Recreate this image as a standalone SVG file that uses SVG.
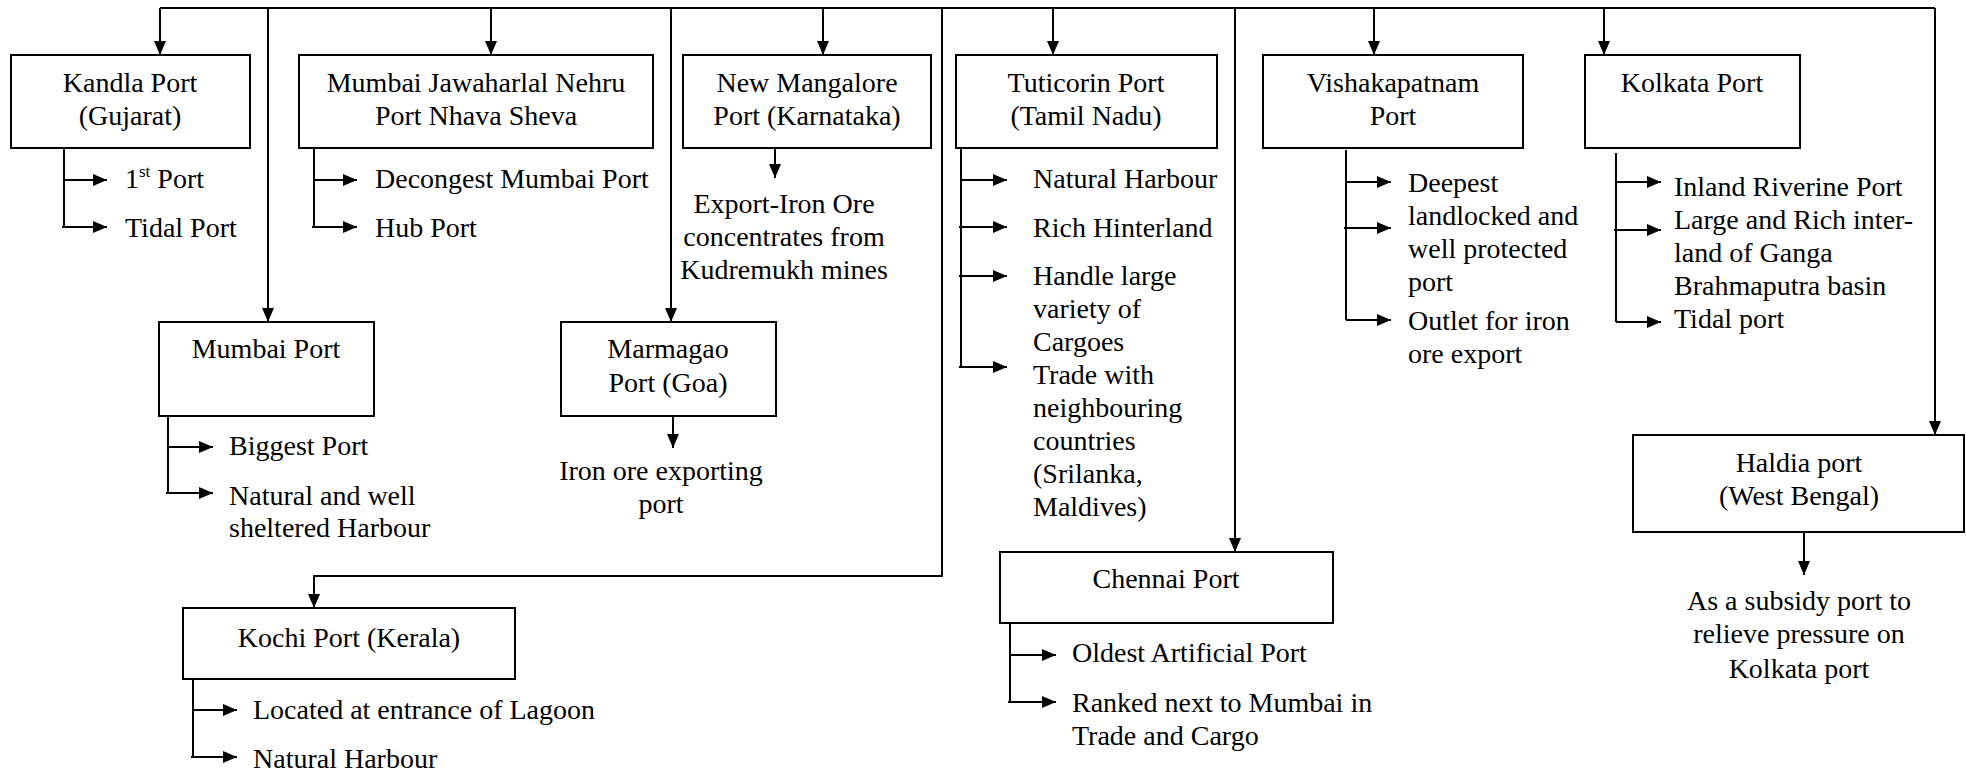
<svg xmlns="http://www.w3.org/2000/svg" width="1966" height="774" viewBox="0 0 1966 774">
<defs>
<marker id="ah" markerUnits="userSpaceOnUse" markerWidth="15" markerHeight="13" refX="14" refY="6" orient="auto">
<path d="M0,0 L14,6 L0,12 z" fill="#000"/>
</marker>
<style>
.box{fill:#fff;stroke:#000;stroke-width:2}
.ln{fill:none;stroke:#000;stroke-width:2}
.ar{fill:none;stroke:#000;stroke-width:2;marker-end:url(#ah)}
text{font-family:"Liberation Serif","Times New Roman",serif;font-size:28px;fill:#000}
.c{text-anchor:middle}
</style>
</defs>
<rect width="1966" height="774" fill="#fff"/>
<g id="connectors">
<path class="ln" d="M160,8 H1935"/>
<path class="ar" d="M160,8 V55"/>
<path class="ar" d="M491,8 V55"/>
<path class="ar" d="M823,8 V55"/>
<path class="ar" d="M1053,8 V55"/>
<path class="ar" d="M1374,8 V55"/>
<path class="ar" d="M1604,8 V55"/>
<path class="ar" d="M268,8 V322"/>
<path class="ar" d="M671,8 V322"/>
<path class="ar" d="M1235,8 V552"/>
<path class="ar" d="M1935,8 V435"/>
<path class="ar" d="M942,8 V576 H314 V608"/>
</g>
<g id="kandla">
<rect class="box" x="11" y="55" width="239" height="93"/>
<text class="c" x="130" y="92">Kandla Port</text>
<text class="c" x="130" y="125">(Gujarat)</text>
<path class="ln" d="M64,148 V227"/>
<path class="ar" d="M64,180 H107"/>
<path class="ar" d="M62,227 H107"/>
<text x="125" y="188">1<tspan font-size="17" dy="-11">st</tspan><tspan dy="11"> Port</tspan></text>
<text x="125" y="237">Tidal Port</text>
</g>
<g id="jnpt">
<rect class="box" x="299" y="55" width="354" height="93"/>
<text class="c" x="476" y="92">Mumbai Jawaharlal Nehru</text>
<text class="c" x="476" y="125">Port Nhava Sheva</text>
<path class="ln" d="M314,148 V227"/>
<path class="ar" d="M314,180 H357"/>
<path class="ar" d="M312,227 H357"/>
<text x="375" y="188">Decongest Mumbai Port</text>
<text x="375" y="237">Hub Port</text>
</g>
<g id="newmangalore">
<rect class="box" x="683" y="55" width="248" height="93"/>
<text class="c" x="807" y="92">New Mangalore</text>
<text class="c" x="807" y="125">Port (Karnataka)</text>
<path class="ar" d="M775,148 V178"/>
<text class="c" x="784" y="213">Export-Iron Ore</text>
<text class="c" x="784" y="246">concentrates from</text>
<text class="c" x="784" y="279">Kudremukh mines</text>
</g>
<g id="tuticorin">
<rect class="box" x="956" y="55" width="261" height="93"/>
<text class="c" x="1086" y="92">Tuticorin Port</text>
<text class="c" x="1086" y="125">(Tamil Nadu)</text>
<path class="ln" d="M961,148 V367"/>
<path class="ar" d="M961,180 H1007"/>
<path class="ar" d="M959,227 H1007"/>
<path class="ar" d="M959,276 H1007"/>
<path class="ar" d="M959,367 H1007"/>
<text x="1033" y="188">Natural Harbour</text>
<text x="1033" y="237">Rich Hinterland</text>
<text x="1033" y="285">Handle large</text>
<text x="1033" y="318">variety of</text>
<text x="1033" y="351">Cargoes</text>
<text x="1033" y="384">Trade with</text>
<text x="1033" y="417">neighbouring</text>
<text x="1033" y="450">countries</text>
<text x="1033" y="483">(Srilanka,</text>
<text x="1033" y="516">Maldives)</text>
</g>
<g id="vishakapatnam">
<rect class="box" x="1263" y="55" width="260" height="93"/>
<text class="c" x="1393" y="92">Vishakapatnam</text>
<text class="c" x="1393" y="125">Port</text>
<path class="ln" d="M1346,150 V320"/>
<path class="ar" d="M1346,182 H1391"/>
<path class="ar" d="M1344,228 H1391"/>
<path class="ar" d="M1346,320 H1391"/>
<text x="1408" y="192">Deepest</text>
<text x="1408" y="225">landlocked and</text>
<text x="1408" y="258">well protected</text>
<text x="1408" y="291">port</text>
<text x="1408" y="330">Outlet for iron</text>
<text x="1408" y="363">ore export</text>
</g>
<g id="kolkata">
<rect class="box" x="1585" y="55" width="215" height="93"/>
<text class="c" x="1692" y="92">Kolkata Port</text>
<path class="ln" d="M1616,153 V322"/>
<path class="ar" d="M1616,182 H1661"/>
<path class="ar" d="M1614,230 H1661"/>
<path class="ar" d="M1616,322 H1661"/>
<text x="1674" y="196">Inland Riverine Port</text>
<text x="1674" y="229">Large and Rich inter-</text>
<text x="1674" y="262">land of Ganga</text>
<text x="1674" y="295">Brahmaputra basin</text>
<text x="1674" y="328">Tidal port</text>
</g>
<g id="mumbai">
<rect class="box" x="159" y="322" width="215" height="94"/>
<text class="c" x="266" y="358">Mumbai Port</text>
<path class="ln" d="M168,416 V493"/>
<path class="ar" d="M168,447 H213"/>
<path class="ar" d="M166,493 H213"/>
<text x="229" y="455">Biggest Port</text>
<text x="229" y="505">Natural and well</text>
<text x="229" y="537">sheltered Harbour</text>
</g>
<g id="marmagao">
<rect class="box" x="561" y="322" width="215" height="94"/>
<text class="c" x="668" y="358">Marmagao</text>
<text class="c" x="668" y="392">Port (Goa)</text>
<path class="ar" d="M673,417 V448"/>
<text class="c" x="661" y="480">Iron ore exporting</text>
<text class="c" x="661" y="513">port</text>
</g>
<g id="kochi">
<rect class="box" x="183" y="608" width="332" height="71"/>
<text class="c" x="349" y="647">Kochi Port (Kerala)</text>
<path class="ln" d="M193,679 V757"/>
<path class="ar" d="M193,710 H237"/>
<path class="ar" d="M191,757 H237"/>
<text x="253" y="719">Located at entrance of Lagoon</text>
<text x="253" y="768">Natural Harbour</text>
</g>
<g id="chennai">
<rect class="box" x="1000" y="552" width="333" height="71"/>
<text class="c" x="1166" y="588">Chennai Port</text>
<path class="ln" d="M1010,623 V702"/>
<path class="ar" d="M1010,655 H1056"/>
<path class="ar" d="M1008,702 H1056"/>
<text x="1072" y="662">Oldest Artificial Port</text>
<text x="1072" y="712">Ranked next to Mumbai in</text>
<text x="1072" y="745">Trade and Cargo</text>
</g>
<g id="haldia">
<rect class="box" x="1633" y="435" width="331" height="97"/>
<text class="c" x="1799" y="472">Haldia port</text>
<text class="c" x="1799" y="505">(West Bengal)</text>
<path class="ar" d="M1804,532 V575"/>
<text class="c" x="1799" y="610">As a subsidy port to</text>
<text class="c" x="1799" y="643">relieve pressure on</text>
<text class="c" x="1799" y="678">Kolkata port</text>
</g>
</svg>
